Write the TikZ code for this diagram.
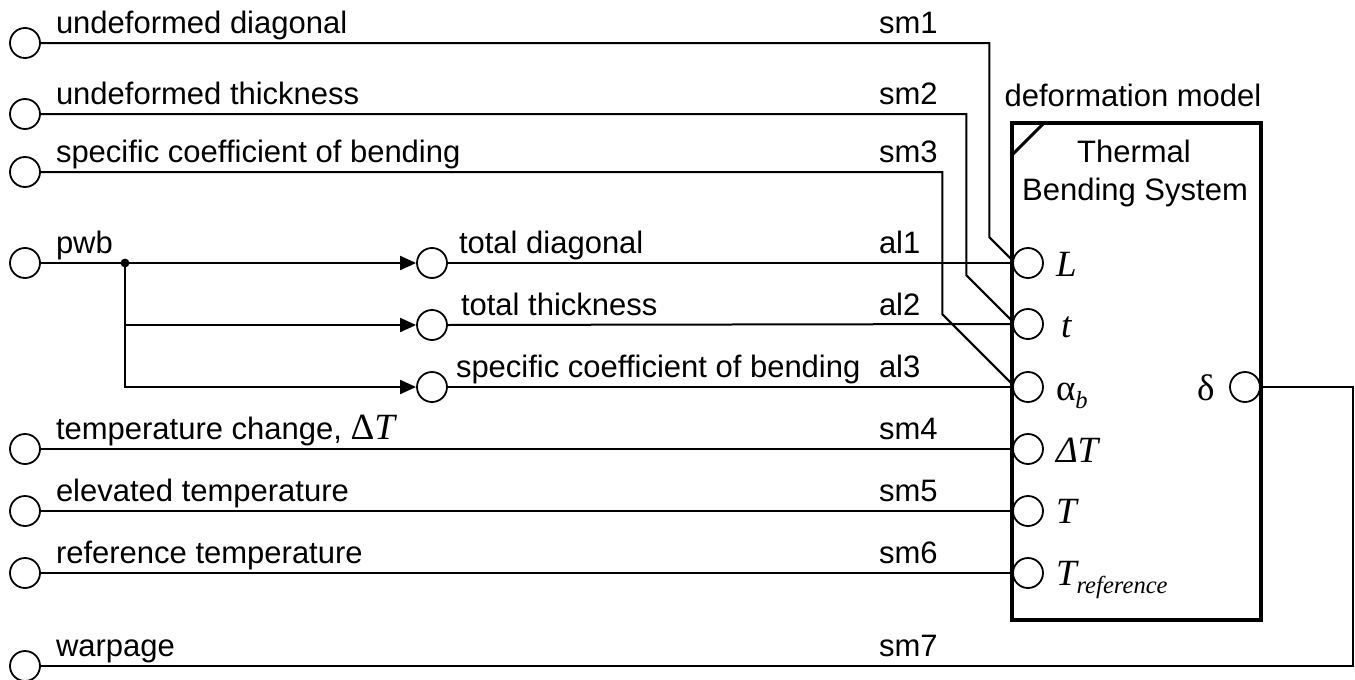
\documentclass[tikz,border=0pt]{standalone}
\usepackage{fontspec}
\setmainfont{Liberation Sans}
\newfontfamily\tnr{Liberation Serif}
\usetikzlibrary{arrows.meta,calc}
\begin{document}
\begin{tikzpicture}[x=0.5pt,y=-0.5pt,line width=1pt,
  port/.style={circle,draw,line width=0.9pt,minimum size=15pt,inner sep=0pt,fill=white},
  lbl/.style={anchor=base west,inner sep=0pt,font=\fontsize{15.5}{19}\selectfont},
  clbl/.style={anchor=base,inner sep=0pt,font=\fontsize{15.5}{19}\selectfont},
  plbl/.style={anchor=base west,inner sep=0pt,font=\tnr\fontsize{18.5}{22}\selectfont},
  arr/.style={-{Triangle[length=8pt,width=7pt]}},
  blockbox/.style={draw,line width=2pt,inner sep=0pt,minimum width=124.5pt,minimum height=248.5pt}
]
\useasboundingbox (0,0) rectangle (1355,680);
% left source circles
\node[port] (c1) at (25,43) {};
\node[port] (c2) at (25,114) {};
\node[port] (c3) at (25,172) {};
\node[port] (c4) at (25,263) {};
\node[port] (c5) at (25,449) {};
\node[port] (c6) at (25,511) {};
\node[port] (c7) at (25,573) {};
\node[port] (c8) at (25,666) {};
% middle circles
\node[port] (m1) at (432,263) {};
\node[port] (m2) at (432,325) {};
\node[port] (m3) at (432,387) {};
% block
\node[blockbox] (blk) at (1136.5,371.5) {};
\draw[line width=1.5pt] (1012,155) -- (1043,124);
\node[clbl] (blkname) at (1133,106) {deformation model};
\node[clbl] (t1) at (1134,162) {Thermal};
\node[clbl] (t2) at (1135,200) {Bending System};
% block ports
\node[port] (pL) at (1028,263) {};
\node[port] (pt) at (1028,324) {};
\node[port] (pa) at (1028,387) {};
\node[port] (pdT) at (1028,449) {};
\node[port] (pT) at (1028,511) {};
\node[port] (pTr) at (1028,573) {};
\node[port] (pd) at (1245,387) {};
% port labels
\node[plbl] (lL) at (1055,276) {\itshape L};
\node[plbl] (lt) at (1060,337) {\itshape t};
\node[plbl] (la) at (1055,400) {α\raisebox{-4pt}{\fontsize{12.3}{14}\selectfont\itshape b}};
\node[plbl] (ldT) at (1055,462) {\itshape ΔT};
\node[plbl] (lT) at (1055,523) {\itshape T};
\node[plbl] (lTr) at (1055,585) {\itshape T\raisebox{-4pt}{\fontsize{12.3}{14}\selectfont reference}};
\node[plbl] (ld) at (1196,400) {δ};
% left labels
\node[lbl] (n1) at (55,33) {undeformed diagonal};
\node[lbl] (n2) at (55,104) {undeformed thickness};
\node[lbl] (n3) at (55,162) {specific coefficient of bending};
\node[lbl] (n4) at (55,253) {pwb};
\node[lbl] (n5) at (55,439) {temperature change, {\tnr\fontsize{18.5}{22}\selectfont Δ\itshape T}};
\node[lbl] (n6) at (55,501) {elevated temperature};
\node[lbl] (n7) at (55,563) {reference temperature};
\node[lbl] (n8) at (55,656) {warpage};
% middle labels
\node[lbl] (k1) at (458,253) {total diagonal};
\node[lbl] (k2) at (460,315) {total thickness};
\node[lbl] (k3) at (455,377) {specific coefficient of bending};
% signal names
\node[lbl] (s1) at (878,33) {sm1};
\node[lbl] (s2) at (878,104) {sm2};
\node[lbl] (s3) at (878,162) {sm3};
\node[lbl] (a1) at (878,253) {al1};
\node[lbl] (a2) at (878,315) {al2};
\node[lbl] (a3) at (878,377) {al3};
\node[lbl] (s4) at (878,439) {sm4};
\node[lbl] (s5) at (878,501) {sm5};
\node[lbl] (s6) at (878,563) {sm6};
\node[lbl] (s7) at (878,656) {sm7};
% connectors
\draw (c1.east) -| ($(pL.170)+(-23,-23)$) -- (pL.170);
\draw (c2.east) -| ($(pt.170)+(-46,-46)$) -- (pt.170);
\draw (c3.east) -| ($(pa.170)+(-70,-70)$) -- (pa.170);
\coordinate (br) at (125,263);
\fill (br) circle (2.2pt);
\draw[arr] (c4.east) -- (br) -- (m1.west);
\draw[arr] (br) |- (m2.west);
\draw[arr] (br) |- (m3.west);
\draw (m1.east) -- (pL.west);
\draw (m2.east) -- (pt.west);
\draw (m3.east) -- (pa.west);
\draw (c5.east) -- (pdT.west);
\draw (c6.east) -- (pT.west);
\draw (c7.east) -- (pTr.west);
\coordinate (rc) at (1353,666);
\draw (pd.east) -| (rc) -- (c8.east);
\end{tikzpicture}
\end{document}
